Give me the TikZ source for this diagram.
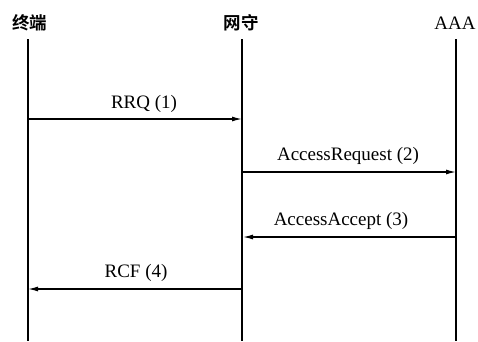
\documentclass[tikz,border=0pt]{standalone}
\usepackage{fontspec}
\setmainfont{Liberation Serif}
\newfontfamily\cjk{Noto Sans CJK SC Bold}
\usetikzlibrary{arrows.meta}
\begin{document}
\begin{tikzpicture}[x=1pt,y=-1pt,
  lifeline/.style={line width=2pt},
  msg/.style={line width=1.3pt,-{Latex[length=10pt,width=5pt]}},
  head/.style={inner sep=0pt,font=\cjk\fontsize{17.5}{17.5}\selectfont},
  lbl/.style={inner sep=0pt,font=\fontsize{19}{19}\selectfont}]
\useasboundingbox (0,0) rectangle (478,341);
% participants
\node[head] (term) at (30,23) {终端};
\node[head] (gk)   at (241,23) {网守};
\node[lbl]  (aaa)  at (455,23) {AAA};
% lifelines
\coordinate (termT) at (28,39);  \coordinate (termB) at (28,341);
\coordinate (gkT)   at (242,39); \coordinate (gkB)   at (242,341);
\coordinate (aaaT)  at (456,39); \coordinate (aaaB)  at (456,341);
\draw[lifeline] (termT) -- (termB);
\draw[lifeline] (gkT) -- (gkB);
\draw[lifeline] (aaaT) -- (aaaB);
% message anchors on the lifelines
\coordinate (m1a) at (28,119);  \coordinate (m1b) at (242,119);
\coordinate (m2a) at (242,172); \coordinate (m2b) at (456,172);
\coordinate (m3a) at (456,237); \coordinate (m3b) at (243,237);
\coordinate (m4a) at (242,289); \coordinate (m4b) at (28,289);
% messages
\draw[msg] (m1a) -- (m1b);
\node[lbl] (l1) at (144,104) {RRQ (1)};
\draw[msg] (m2a) -- (m2b);
\node[lbl] (l2) at (348,156) {AccessRequest (2)};
\draw[msg] (m3a) -- (m3b);
\node[lbl] (l3) at (341,221) {AccessAccept (3)};
\draw[msg] (m4a) -- (m4b);
\node[lbl] (l4) at (136,273) {RCF (4)};
\end{tikzpicture}
\end{document}
